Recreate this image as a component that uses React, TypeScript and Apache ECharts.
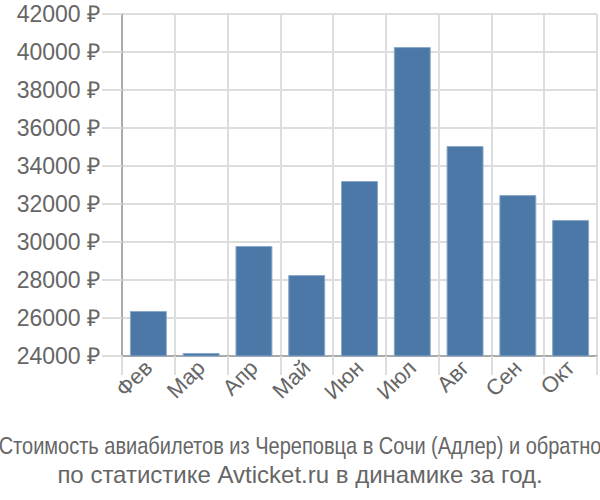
import React, { useEffect, useRef } from "react";
import * as echarts from "echarts";

const months = ["Фев", "Мар", "Апр", "Май", "Июн", "Июл", "Авг", "Сен", "Окт"];
const prices = [26370, 24160, 29790, 28260, 33210, 40260, 35050, 32470, 31160];
const titleLines = [
  "Стоимость авиабилетов из Череповца в Сочи (Адлер) и обратно",
  "по статистике Avticket.ru в динамике за год.",
];

const FONT = "Liberation Sans";

export default function App() {
  const ref = useRef<HTMLDivElement>(null);
  useEffect(() => {
    const chart = echarts.init(ref.current!, null, { renderer: "svg" });
    chart.setOption({
      animation: false,
      grid: { left: 122, right: 3, top: 14, bottom: 144 },
      xAxis: {
        type: "category",
        data: months,
        axisLine: { show: true, lineStyle: { color: "#aaa", width: 2 } },
        axisTick: { show: true, length: 19, lineStyle: { color: "#ddd", width: 2 } },
        splitLine: { show: true, lineStyle: { color: "#ddd", width: 2 } },
        axisLabel: {
          rotate: 45,
          fontSize: 22,
          color: "#666",
          fontFamily: FONT,
          margin: 8,
        },
      },
      yAxis: {
        type: "value",
        min: 24000,
        max: 42000,
        interval: 2000,
        axisLine: { show: true, lineStyle: { color: "#aaa", width: 2 } },
        axisTick: { show: true, length: 20, lineStyle: { color: "#ddd", width: 2 } },
        splitLine: { show: true, lineStyle: { color: "#ddd", width: 2 } },
        axisLabel: {
          formatter: (v: number) => `${v} ₽`,
          fontSize: 23,
          color: "#666",
          fontFamily: FONT,
          margin: 22,
        },
      },
      series: [
        {
          type: "bar",
          data: prices,
          barCategoryGap: "30%",
          itemStyle: { color: "#4c78a8", borderColor: "#8aa8c8", borderWidth: 1 },
        },
      ],
      graphic: [
        {
          type: "text",
          x: 300,
          y: 434,
          scaleX: 0.834,
          style: {
            text: titleLines[0],
            fontSize: 24,
            fill: "#666",
            fontFamily: FONT,
            textAlign: "center",
          },
        },
        {
          type: "text",
          x: 300,
          y: 462,
          style: {
            text: titleLines[1],
            fontSize: 24,
            fill: "#666",
            fontFamily: FONT,
            textAlign: "center",
          },
        },
      ],
    });
    return () => chart.dispose();
  }, []);
  return <div ref={ref} style={{ width: 600, height: 500, position: "absolute", left: 0, top: 0 }} />;
}
